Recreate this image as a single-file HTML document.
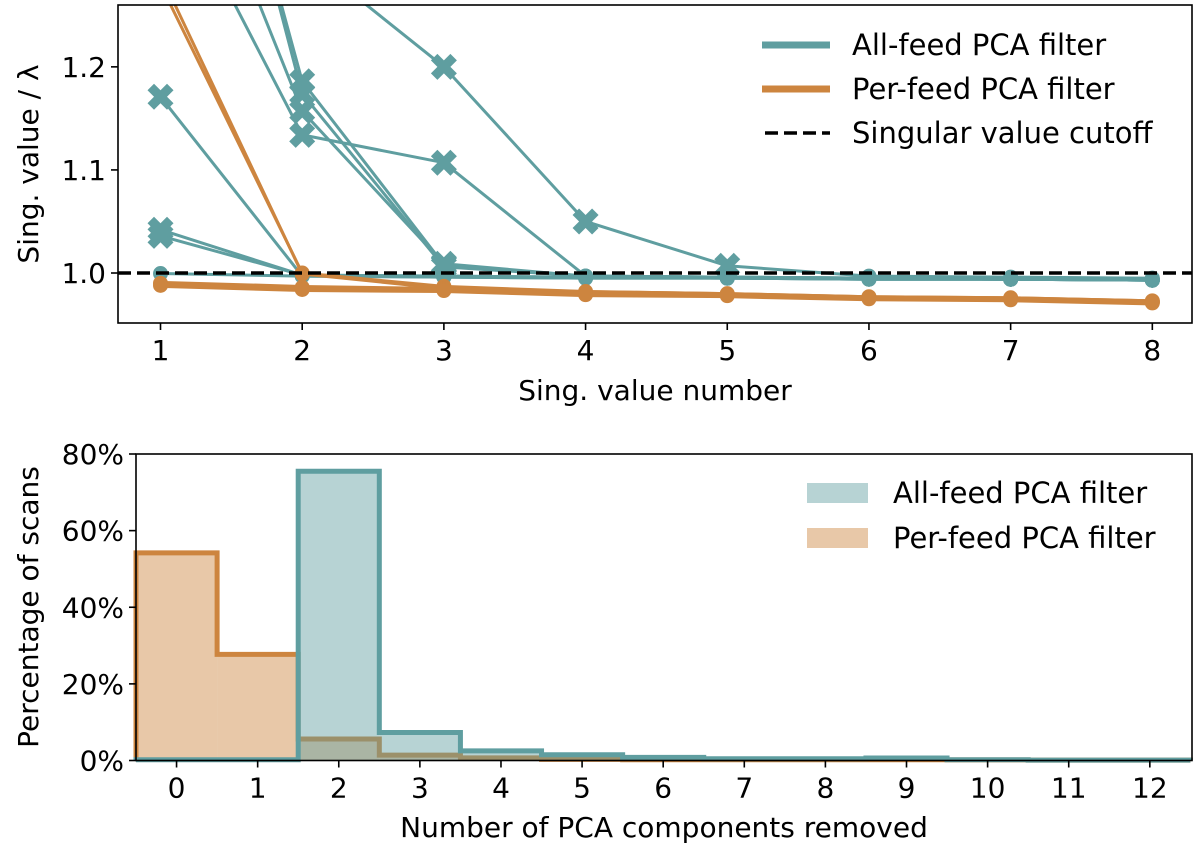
<!DOCTYPE html>
<html><head><meta charset="utf-8"><style>
html,body{margin:0;padding:0;background:#fff;}
svg{display:block;font-family:"DejaVu Sans","Liberation Sans",sans-serif;}
</style></head><body>
<svg id="fig" width="1200" height="847" viewBox="0 0 1200 847"></svg>
<script>
// ---- Top panel data ----
const svNumbers = [1,2,3,4,5,6,7,8];
const allFeed1 = [1.171,0.997,0.996,0.995,0.995,0.994,0.994,0.993];
const allFeed2 = [1.042,0.998,0.997,0.996,0.995,0.995,0.994,0.994];
const allFeed3 = [1.036,0.998,0.997,0.996,0.995,0.994,0.994,0.993];
const allFeed4 = [0.9995,0.997,0.996,0.995,0.995,0.994,0.994,0.993];
const allFeed5 = [1.69,1.186,1.008,0.997,0.996,0.995,0.994,0.994];
const allFeed6 = [1.70,1.174,1.006,0.997,0.996,0.995,0.994,0.993];
const allFeed7 = [1.40,1.134,1.107,0.997,0.996,0.995,0.994,0.993];
const allFeed8 = [1.50,1.157,1.009,0.997,0.996,0.995,0.994,0.993];
const allFeed9 = [1.41,1.31,1.2,1.05,1.007,0.997,0.996,0.995];
const perFeed1 = [1.28,1.0,0.987,0.982,0.980,0.977,0.976,0.973];
const perFeed2 = [1.29,0.999,0.985,0.981,0.979,0.976,0.975,0.972];
const perFeed3 = [0.990,0.986,0.984,0.981,0.979,0.976,0.975,0.972];
const perFeed4 = [0.988,0.984,0.983,0.979,0.978,0.975,0.974,0.971];
const cutoff = 1.0;
const topYTicks = [1.0,1.1,1.2];
const topYTickLabels = ["1.0","1.1","1.2"];
// ---- Bottom panel data ----
const nRemoved = [0,1,2,3,4,5,6,7,8,9,10,11,12];
const allFeedPct = [0.2,0.2,75.5,7.3,2.5,1.5,0.8,0.45,0.45,0.65,0.2,0.1,0.1];
const perFeedPct = [54.2,27.7,5.6,1.4,0.7,0.3,0.2,0.2,0.2,0.2,0.15,0.1,0.1];
const botYTicks = [0,20,40,60,80];
const botYTickLabels = ["0%","20%","40%","60%","80%"];

const NS="http://www.w3.org/2000/svg";
const svg=document.getElementById('fig');
const TEAL="#5f9ea0", ORANGE="#cd853f";
const FS=28;
function mk(tag,attrs,parent){const e=document.createElementNS(NS,tag);for(const k in attrs)e.setAttribute(k,attrs[k]);(parent||svg).appendChild(e);return e;}

// Top axes
const T={l:118,r:1192,t:5,b:323,x0:0.7,x1:8.28,y0:0.9515,y1:1.26};
const tx=v=>T.l+(v-T.x0)/(T.x1-T.x0)*(T.r-T.l);
const ty=v=>T.b-(v-T.y0)/(T.y1-T.y0)*(T.b-T.t);
const cp=mk('clipPath',{id:'clipTop'});
mk('rect',{x:T.l,y:T.t,width:T.r-T.l,height:T.b-T.t},cp);
const gTop=mk('g',{'clip-path':'url(#clipTop)'});



function drawSeries(vals,color,w,name){
  const g=mk('g',{},gTop);
  
  
  const pts=vals.map((v,i)=>tx(svNumbers[i])+','+ty(v)).join(' ');
  const pl=mk('polyline',{points:pts,fill:'none',stroke:color,'stroke-width':w,'stroke-linejoin':'round'},g);
  
  
  vals.forEach((v,i)=>{
    const x=tx(svNumbers[i]),y=ty(v);
    let m;
    if(v>cutoff+0.002){
      const s=13,a=6.5;
      const d=`M${x-s+a},${y-s}L${x},${y-a}L${x+s-a},${y-s}L${x+s},${y-s+a}L${x+a},${y}L${x+s},${y+s-a}L${x+s-a},${y+s}L${x},${y+a}L${x-s+a},${y+s}L${x-s},${y+s-a}L${x-a},${y}L${x-s},${y-s+a}Z`;
      m=mk('path',{d:d,fill:color},g);
      
    } else {
      m=mk('circle',{cx:x,cy:y,r:7.5,fill:color},g);
      
    }
    
  });
}
[allFeed1,allFeed2,allFeed3,allFeed4,allFeed5,allFeed6,allFeed7,allFeed8,allFeed9].forEach((s,i)=>drawSeries(s,TEAL,3,'all-feed-series-'+(i+1)));
[perFeed1,perFeed2,perFeed3,perFeed4].forEach((s,i)=>drawSeries(s,ORANGE,i<2?3:5,'per-feed-series-'+(i+1)));
const cl=mk('line',{x1:T.l,x2:T.r,y1:ty(cutoff),y2:ty(cutoff),stroke:'#000','stroke-width':3.5,'stroke-dasharray':'13,6'},gTop);


const tf=mk('rect',{x:T.l,y:T.t,width:T.r-T.l,height:T.b-T.t,fill:'none',stroke:'#000','stroke-width':1.6});


svNumbers.forEach(n=>{
  const x=tx(n);
  mk('line',{x1:x,x2:x,y1:T.b,y2:T.b+7,stroke:'#000','stroke-width':1.6});
  const t=mk('text',{x:x,y:T.b+37,'text-anchor':'middle','font-size':FS});
  t.textContent=n;
  
  
});
topYTicks.forEach((v,i)=>{
  const y=ty(v);
  mk('line',{x1:T.l-7,x2:T.l,y1:y,y2:y,stroke:'#000','stroke-width':1.6});
  const t=mk('text',{x:T.l-12,y:y+10,'text-anchor':'end','font-size':FS});
  t.textContent=topYTickLabels[i];
  
  
});
let t=mk('text',{x:655,y:400,'text-anchor':'middle','font-size':FS});
t.textContent='Sing. value number';


t=mk('text',{x:0,y:0,'text-anchor':'middle','font-size':FS,transform:'translate(38,164) rotate(-90)'});
t.textContent='Sing. value / λ';


// top legend
const legTop=[['All-feed PCA filter',TEAL,45,null],['Per-feed PCA filter',ORANGE,89,null],['Singular value cutoff','#000',133,'13,6']];
legTop.forEach(([lab,c,y,da])=>{
  const g=mk('g',{});
  
  
  const a={x1:762,x2:830,y1:y,y2:y,stroke:c,'stroke-width':da?3.5:7};
  if(da){a['stroke-dasharray']=da;a.x1=765;}
  mk('line',a,g);
  const tt=mk('text',{x:852,y:y+10,'font-size':29},g);
  tt.textContent=lab;
});

// Bottom axes
const B={l:136,r:1192,t:454,b:760.5,x0:-0.5,x1:12.52,y0:0,y1:80};
const bx=v=>B.l+(v-B.x0)/(B.x1-B.x0)*(B.r-B.l);
const by=v=>B.b-(v-B.y0)/(B.y1-B.y0)*(B.b-B.t);
function stepPath(vals){
  let d=`M${bx(nRemoved[0]-0.5)},${by(0)}`;
  vals.forEach((v,i)=>{d+=`L${bx(nRemoved[i]-0.5)},${by(v)}L${bx(nRemoved[i]+0.5)},${by(v)}`;});
  d+=`L${bx(nRemoved[nRemoved.length-1]+0.5)},${by(0)}`;
  return d;
}
[[perFeedPct,ORANGE,'per-feed-histogram'],[allFeedPct,TEAL,'all-feed-histogram']].forEach(([vals,c,name])=>{
  const g=mk('g',{});
  
  
  vals.forEach((v,i)=>{
    const r=mk('rect',{x:bx(nRemoved[i]-0.5),y:by(v),width:bx(1)-bx(0),height:by(0)-by(v),fill:c,'fill-opacity':0.45},g);
    
    
  });
  const p=mk('path',{d:stepPath(vals),fill:'none',stroke:c,'stroke-width':5,'stroke-linejoin':'miter'},g);
  
  
});
const bf=mk('rect',{x:B.l,y:B.t,width:B.r-B.l,height:B.b-B.t,fill:'none',stroke:'#000','stroke-width':1.6});


nRemoved.forEach(n=>{
  const x=bx(n);
  mk('line',{x1:x,x2:x,y1:B.b,y2:B.b+7,stroke:'#000','stroke-width':1.6});
  const tt=mk('text',{x:x,y:B.b+37,'text-anchor':'middle','font-size':FS});
  tt.textContent=n;
  
  
});
botYTicks.forEach((v,i)=>{
  const y=by(v);
  mk('line',{x1:B.l-7,x2:B.l,y1:y,y2:y,stroke:'#000','stroke-width':1.6});
  const tt=mk('text',{x:B.l-12,y:y+10,'text-anchor':'end','font-size':FS});
  tt.textContent=botYTickLabels[i];
  
  
});
t=mk('text',{x:664,y:837,'text-anchor':'middle','font-size':FS});
t.textContent='Number of PCA components removed';


t=mk('text',{x:0,y:0,'text-anchor':'middle','font-size':FS,transform:'translate(38,607) rotate(-90)'});
t.textContent='Percentage of scans';


[['All-feed PCA filter',TEAL,493],['Per-feed PCA filter',ORANGE,538]].forEach(([lab,c,y])=>{
  const g=mk('g',{});
  
  
  mk('rect',{x:807,y:y-10,width:61,height:20,fill:c,'fill-opacity':0.45},g);
  const tt=mk('text',{x:893,y:y+10,'font-size':29},g);
  tt.textContent=lab;
});
</script>
</body></html>
